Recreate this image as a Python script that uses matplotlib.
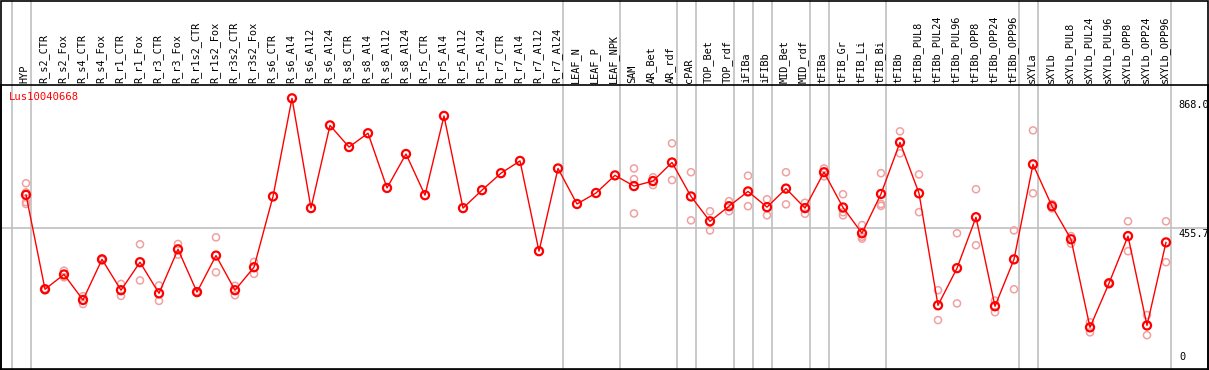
import numpy as np
import matplotlib
matplotlib.use('Agg')
import matplotlib.pyplot as plt
import matplotlib.transforms as mtransforms

# categories (tissue / sample names)
labels = ['HYP', 'R_s2_CTR', 'R_s2_Fox', 'R_s4_CTR', 'R_s4_Fox', 'R_r1_CTR', 'R_r1_Fox',
          'R_r3_CTR', 'R_r3_Fox', 'R_r1s2_CTR', 'R_r1s2_Fox', 'R_r3s2_CTR', 'R_r3s2_Fox',
          'R_s6_CTR', 'R_s6_Al4', 'R_s6_Al12', 'R_s6_Al24', 'R_s8_CTR', 'R_s8_Al4',
          'R_s8_Al12', 'R_s8_Al24', 'R_r5_CTR', 'R_r5_Al4', 'R_r5_Al12', 'R_r5_Al24',
          'R_r7_CTR', 'R_r7_Al4', 'R_r7_Al12', 'R_r7_Al24', 'LEAF_N', 'LEAF_P', 'LEAF_NPK',
          'SAM', 'AR_Bet', 'AR_rdf', 'cPAR', 'TOP_Bet', 'TOP_rdf', 'iFIBa', 'iFIBb',
          'MID_Bet', 'MID_rdf', 'tFIBa', 'tFIB_Gr', 'tFIB_Li', 'tFIB_Bi', 'tFIBb',
          'tFIBb_PUL8', 'tFIBb_PUL24', 'tFIBb_PUL96', 'tFIBb_OPP8', 'tFIBb_OPP24',
          'tFIBb_OPP96', 'sXYLa', 'sXYLb', 'sXYLb_PUL8', 'sXYLb_PUL24', 'sXYLb_PUL96',
          'sXYLb_OPP8', 'sXYLb_OPP24', 'sXYLb_OPP96']

# mean expression
means = [561, 261, 308, 227, 356, 258, 347, 248, 388, 252, 368, 258, 331,
         556, 868, 519, 782, 713, 757, 583, 691, 560, 812, 519, 576,
         630, 669, 382, 645, 532, 567, 623,
         589, 605, 664, 556, 477, 525, 572, 522, 581, 519,
         633, 521, 439, 564, 728, 566, 210, 328, 490, 207, 356,
         658, 525, 420, 140, 280, 430, 146, 410]

# replicate values
reps = [[598, 569, 538, 532], [258, 263], [320, 299], [239, 214], [354, 358],
        [278, 240], [404, 289], [273, 224], [405, 371], [250, 254], [426, 315],
        [272, 242], [348, 310],
        [], [], [], [], [], [], [], [], [], [], [], [], [], [], [], [], [], [], [],
        [645, 611, 502], [617, 592], [725, 608], [633, 480], [509, 448], [541, 509],
        [622, 525], [547, 496], [633, 531], [536, 501], [645, 620],
        [563, 506, 496], [465, 428, 422], [630, 532, 526], [763, 693], [626, 506],
        [258, 163], [439, 216], [579, 401], [225, 188], [448, 261],
        [766, 566], [532, 518], [430, 406], [156, 124], [278, 282], [477, 382],
        [179, 115], [477, 347]]

# index of last sample in each group (separator lines)
group_ends = [-1, 0, 28, 31, 34, 35, 37, 38, 39, 41, 42, 45, 52, 53, 60]

gene = 'Lus10040668'
ticks = [868.0, 455.7, 0]

W, H = 1209, 370
fig = plt.figure(figsize=(W / 100, H / 100), dpi=100)
# plot area in pixels: x 1..1208, y 85..369 (from top)
ax = fig.add_axes([1 / W, 1 / H, 1207 / W, 284 / H])
x0, dx = 26, 19.0
ax.set_xlim((1 - x0) / dx, (1208 - x0) / dx)
ax.set_ylim(7.5, 910.3)
ax.set_xticks([])
ax.set_yticks([])
for s in ax.spines.values():
    s.set_color('black')
    s.set_linewidth(1.2)

mono = 'DejaVu Sans Mono'
top_ax = 369 / 284  # figure top in axes coords

for g in group_ends:
    ax.axvline(g + 4.5 / dx, ymin=0, ymax=top_ax, color='#c0c0c0', lw=1.2,
               clip_on=False, zorder=0)
ax.axhline(ticks[1], color='#c0c0c0', lw=1.2, zorder=0)

# black frame round the whole picture
fig.add_artist(plt.Rectangle((0.5 / W, 0.5 / H), 1 - 1.5 / W, 1 - 1.5 / H,
                             fill=False, edgecolor='black', lw=1.2))

xs = np.arange(len(labels))
for i, r in enumerate(reps):
    if r:
        ax.scatter([i] * len(r), r, s=26, facecolors='none', edgecolors='#f0a0a0',
                   linewidths=1.1, zorder=2)
ax.plot(xs, means, color='red', lw=1.0, zorder=3)
ax.scatter(xs, means, s=34, facecolors='none', edgecolors='red', linewidths=1.6, zorder=4)

trans = mtransforms.blended_transform_factory(ax.transData, ax.transAxes)
for i, lab in enumerate(labels):
    ax.text(i - 0.08, 1 + 2 / 284, lab, rotation=90, ha='center', va='bottom',
            fontsize=7.4, family=mono, transform=trans, clip_on=False)

ax.text((9 - x0) / dx, (369 - 97) / 284, gene, color='red', fontsize=7.6, family=mono,
        ha='left', va='center', transform=trans)

for t in ticks:
    lab = '%.1f' % t if t else '0'
    if t:
        ax.text((1178 - x0) / dx, t - 4, lab, fontsize=7.4, family=mono,
                ha='left', va='top', clip_on=False)
    else:
        ax.text((1179 - x0) / dx, (369 - 357) / 284, lab, fontsize=7.4, family=mono,
                ha='left', va='center', transform=trans)

fig.savefig('out.png', dpi=100)
